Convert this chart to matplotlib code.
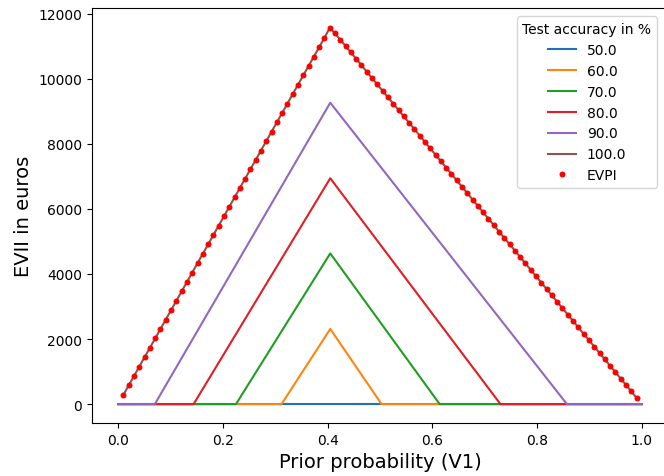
import matplotlib
matplotlib.use("Agg")
import matplotlib.pyplot as plt

# Prior probability grid for EVPI (endpoints undefined)
prior = [0.0101, 0.0202, 0.0303, 0.0404, 0.0505, 0.0606, 0.0707, 0.0808, 0.0909, 0.1010,
         0.1111, 0.1212, 0.1313, 0.1414, 0.1515, 0.1616, 0.1717, 0.1818, 0.1919, 0.2020,
         0.2121, 0.2222, 0.2323, 0.2424, 0.2525, 0.2626, 0.2727, 0.2828, 0.2929, 0.3030,
         0.3131, 0.3232, 0.3333, 0.3434, 0.3535, 0.3636, 0.3737, 0.3838, 0.3939, 0.4040,
         0.4141, 0.4242, 0.4343, 0.4444, 0.4545, 0.4646, 0.4747, 0.4848, 0.4949, 0.5051,
         0.5152, 0.5253, 0.5354, 0.5455, 0.5556, 0.5657, 0.5758, 0.5859, 0.5960, 0.6061,
         0.6162, 0.6263, 0.6364, 0.6465, 0.6566, 0.6667, 0.6768, 0.6869, 0.6970, 0.7071,
         0.7172, 0.7273, 0.7374, 0.7475, 0.7576, 0.7677, 0.7778, 0.7879, 0.7980, 0.8081,
         0.8182, 0.8283, 0.8384, 0.8485, 0.8586, 0.8687, 0.8788, 0.8889, 0.8990, 0.9091,
         0.9192, 0.9293, 0.9394, 0.9495, 0.9596, 0.9697, 0.9798, 0.9899]

evpi = [289, 577, 866, 1154, 1443, 1731, 2020, 2309, 2597, 2886,
        3174, 3463, 3751, 4040, 4329, 4617, 4906, 5194, 5483, 5771,
        6060, 6349, 6637, 6926, 7214, 7503, 7791, 8080, 8369, 8657,
        8946, 9234, 9523, 9811, 10100, 10389, 10677, 10966, 11254, 11560,
        11392, 11195, 10999, 10803, 10606, 10410, 10213, 10017, 9821, 9624,
        9428, 9231, 9035, 8838, 8642, 8446, 8249, 8053, 7856, 7660,
        7464, 7267, 7071, 6874, 6678, 6482, 6285, 6089, 5892, 5696,
        5499, 5303, 5107, 4910, 4714, 4517, 4321, 4125, 3928, 3732,
        3535, 3339, 3143, 2946, 2750, 2553, 2357, 2161, 1964, 1768,
        1571, 1375, 1178, 982, 786, 589, 393, 196]

accuracies = ["50.0", "60.0", "70.0", "80.0", "90.0"]
# breakpoints (prior, EVII)
evii_x = {
    "50.0": [0.0, 0.405, 1.0],
    "60.0": [0.0, 0.312, 0.405, 0.503, 1.0],
    "70.0": [0.0, 0.225, 0.405, 0.614, 1.0],
    "80.0": [0.0, 0.144, 0.405, 0.730, 1.0],
    "90.0": [0.0, 0.070, 0.405, 0.857, 1.0],
}
evii_y = {
    "50.0": [0, 0, 0],
    "60.0": [0, 0, 2310, 0, 0],
    "70.0": [0, 0, 4630, 0, 0],
    "80.0": [0, 0, 6940, 0, 0],
    "90.0": [0, 0, 9260, 0, 0],
}
colors = ["#1f72b8", "#ff8510", "#1f9e22", "#e01e24", "#9467bd", "#8c564b"]

fig = plt.figure(figsize=(6.64, 4.77), dpi=100)
ax = fig.add_axes([92 / 664, 1 - 424 / 477, 576 / 664, 415 / 477])

for acc, c in zip(accuracies, colors):
    ax.plot(evii_x[acc], evii_y[acc], color=c, lw=1.5, label=acc)
ax.plot(prior, evpi, color=colors[5], lw=1.5, label="100.0")
ax.plot(prior, evpi, "o", color="red", ms=4.3, mec="none", label="EVPI")

ax.set_xlabel("Prior probability (V1)", fontsize=14)
ax.set_ylabel("EVII in euros", fontsize=14)
ax.tick_params(labelsize=10)
ax.set_xticks([0.0, 0.2, 0.4, 0.6, 0.8, 1.0])
ax.set_yticks([0, 2000, 4000, 6000, 8000, 10000, 12000])
ax.set_xlim(-0.05, 1.05)
ax.set_ylim(-580, 12170)

leg = ax.legend(title="Test accuracy in %", loc="upper right", fontsize=10,
                title_fontsize=10, bbox_to_anchor=(0.993, 0.997))

fig.savefig("out.png", dpi=100)
